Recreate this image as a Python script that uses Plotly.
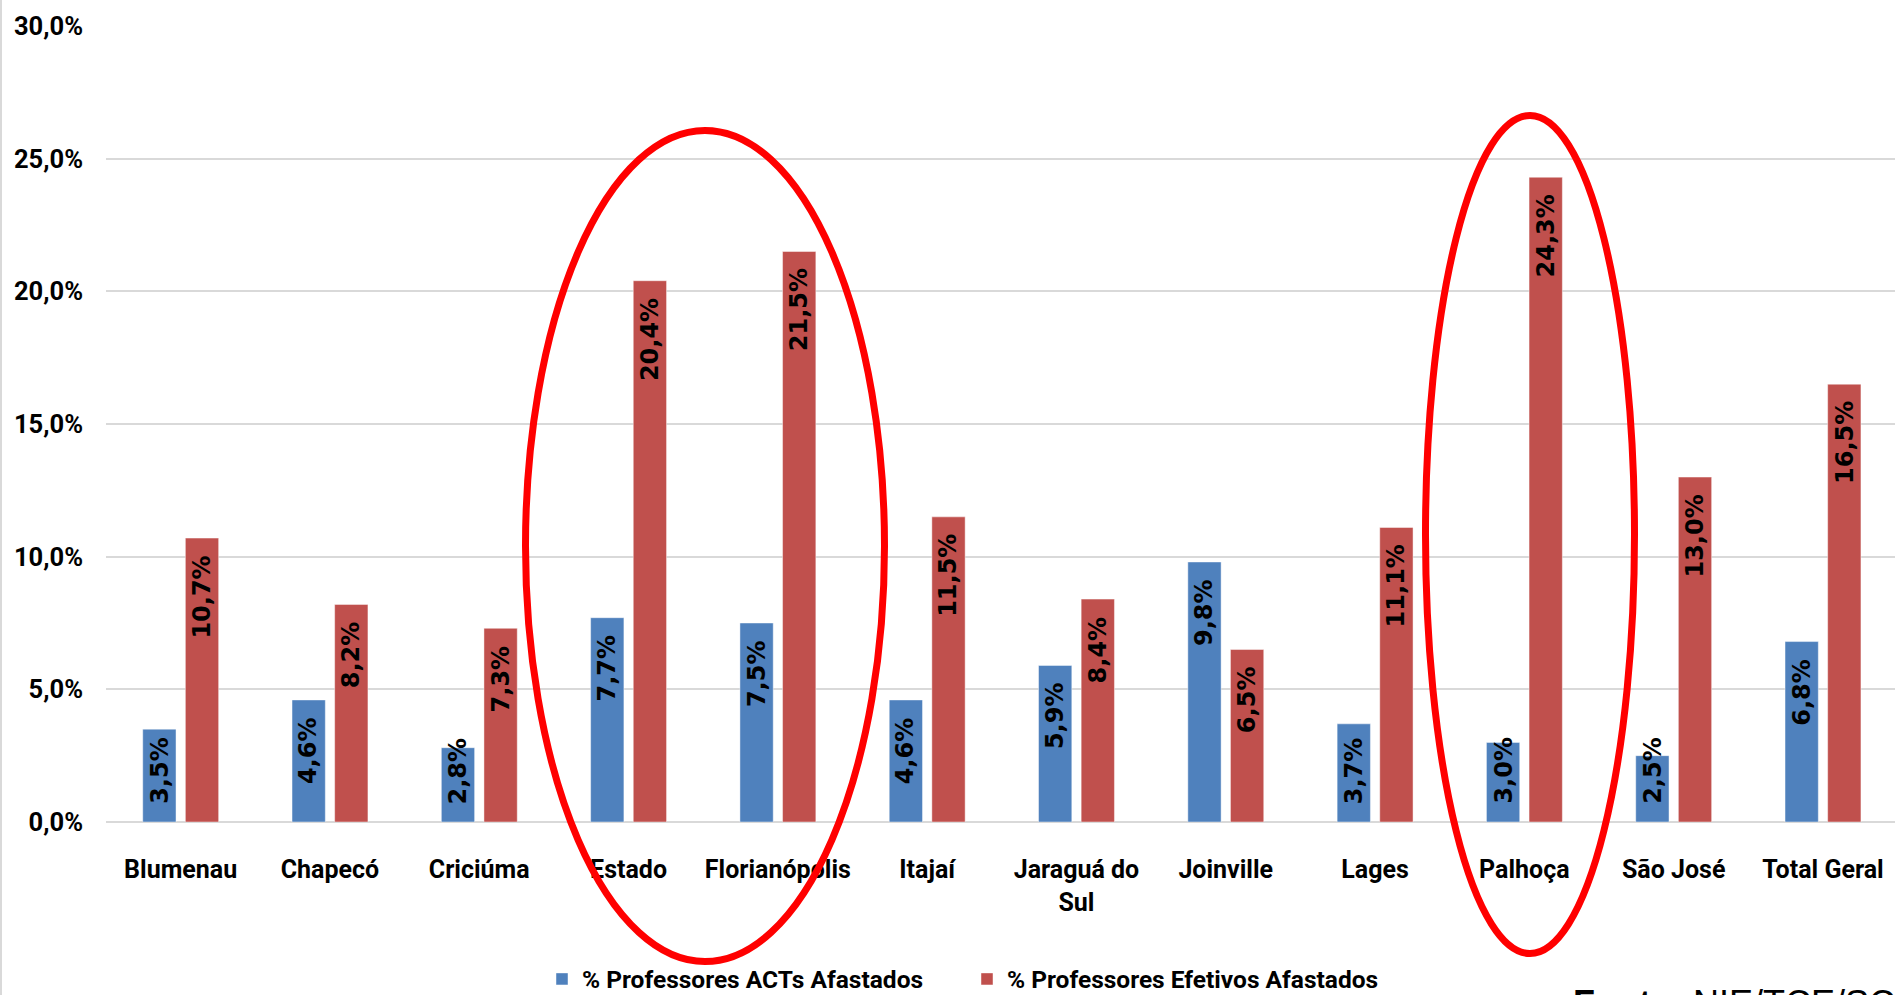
import plotly.graph_objects as go

# --- data -------------------------------------------------------------
categorias = ["Blumenau", "Chapecó", "Criciúma", "Estado", "Florianópolis", "Itajaí",
              "Jaraguá do Sul", "Joinville", "Lages", "Palhoça", "São José", "Total Geral"]
rotulos_eixo = ["Blumenau", "Chapecó", "Criciúma", "Estado", "Florianópolis", "Itajaí",
                "Jaraguá do<br>Sul", "Joinville", "Lages", "Palhoça", "São José", "Total Geral"]
act_afastados = [3.5, 4.6, 2.8, 7.7, 7.5, 4.6, 5.9, 9.8, 3.7, 3.0, 2.5, 6.8]
efetivos_afastados = [10.7, 8.2, 7.3, 20.4, 21.5, 11.5, 8.4, 6.5, 11.1, 24.3, 13.0, 16.5]
nome_act = "% Professores ACTs Afastados"
nome_efetivos = "% Professores Efetivos Afastados"
y_ticks = [0, 5, 10, 15, 20, 25, 30]

# --- geometry / style -------------------------------------------------
W, H = 1895, 995
ML, MR, MT, MB = 106, 0, 26, 173
PLOT_W = W - ML - MR
PLOT_H = H - MT - MB
CAT_PX = 149.3          # width of one category slot in pixels
BAR_W = 0.223
OFF_ACT = -0.254
OFF_EFE = 0.0315
Y_MAX = 30

AZUL = "#4F81BD"
VERMELHO = "#C0504D"
GRADE = "#D9D9D9"
FONTE_EIXO = "Roboto, Liberation Sans, sans-serif"
FONTE_ROTULO = "DejaVu Sans, Verdana, sans-serif"
TAM_ROTULO = 24


def px_x(px):
    return (px - ML) / PLOT_W


def px_y(py):
    return (MT + PLOT_H - py) / PLOT_H


def fmt(v):
    return f"{v:.1f}".replace(".", ",") + "%"


fig = go.Figure()
fig.add_trace(go.Bar(
    name=nome_act, x=categorias, y=act_afastados,
    width=BAR_W, offset=OFF_ACT,
    marker=dict(color=AZUL, line=dict(color="rgba(255,255,255,0.45)", width=1)),
    hoverinfo="x+y",
))
fig.add_trace(go.Bar(
    name=nome_efetivos, x=categorias, y=efetivos_afastados,
    width=BAR_W, offset=OFF_EFE,
    marker=dict(color=VERMELHO, line=dict(color="rgba(255,255,255,0.45)", width=1)),
    hoverinfo="x+y",
))

# value labels: rotated, inside the bar near its top; short bars keep the
# label lifted off the baseline instead
px_por_unidade = PLOT_H / Y_MAX
largura_char = {",": 0.38, "%": 1.002}
anotacoes = []
for serie, desloc in ((act_afastados, OFF_ACT), (efetivos_afastados, OFF_EFE)):
    centro_px = (desloc + BAR_W / 2) * CAT_PX
    for cat, v in zip(categorias, serie):
        txt = fmt(v)
        comp = sum(largura_char.get(c, 0.696) for c in txt) * TAM_ROTULO
        cabe = v * px_por_unidade >= comp + 32
        anotacoes.append(dict(
            x=cat, y=v if cabe else 0, xref="x", yref="y",
            text=txt, textangle=-90, showarrow=False,
            xanchor="center", yanchor="top" if cabe else "bottom",
            xshift=centro_px, yshift=-15 if cabe else 16,
            font=dict(family=FONTE_ROTULO, size=TAM_ROTULO, color="black", weight="bold"),
        ))

# source note, partly running off the lower right corner
anotacoes.append(dict(
    x=px_x(1571), y=px_y(1003), xref="paper", yref="paper",
    text="<b>Fonte:</b> NIE/TCE/SC", showarrow=False,
    xanchor="left", yanchor="middle",
    font=dict(family="Liberation Sans, Arial, sans-serif", size=36, color="black"),
))

# highlight ellipses (pixel centre, half-width, half-height)
elipses = [(705, 546, 179.5, 415.5), (1530, 534.5, 104.5, 419)]
formas = []
for cx, cy, rx, ry in elipses:
    formas.append(dict(
        type="circle", xref="paper", yref="paper",
        x0=px_x(cx - rx), x1=px_x(cx + rx), y0=px_y(cy + ry), y1=px_y(cy - ry),
        line=dict(color="#FF0000", width=7), fillcolor="rgba(0,0,0,0)", layer="above",
    ))
# thin frame line on the left edge of the chart area
formas.append(dict(
    type="line", xref="paper", yref="paper",
    x0=px_x(1), x1=px_x(1), y0=px_y(H), y1=px_y(0),
    line=dict(color=GRADE, width=2),
))

fig.update_layout(
    width=W, height=H,
    margin=dict(l=ML, r=MR, t=MT, b=MB, pad=0),
    paper_bgcolor="white", plot_bgcolor="white",
    barmode="overlay",
    showlegend=True,
    legend=dict(
        orientation="h", x=px_x(542), xanchor="left",
        yref="container", y=1 - 979 / H, yanchor="middle",
        font=dict(family=FONTE_EIXO, size=24.5, color="black", weight="bold"),
        entrywidth=380, entrywidthmode="pixels", itemwidth=30,
        bgcolor="rgba(0,0,0,0)", traceorder="normal",
    ),
    xaxis=dict(
        type="category", categoryorder="array", categoryarray=categorias,
        range=[-0.5, -0.5 + PLOT_W / CAT_PX],
        tickmode="array", tickvals=categorias, ticktext=rotulos_eixo,
        showgrid=False, showline=False, zeroline=False, ticks="",
        ticklabelstandoff=30,
        tickfont=dict(family=FONTE_EIXO, size=25, color="black", weight="bold"),
    ),
    yaxis=dict(
        range=[0, Y_MAX], tickmode="array", tickvals=y_ticks,
        ticktext=[fmt(v) for v in y_ticks],
        showgrid=True, gridcolor=GRADE, gridwidth=1.5,
        zeroline=True, zerolinecolor=GRADE, zerolinewidth=1.5,
        showline=False, ticks="", ticklabelstandoff=22,
        tickfont=dict(family=FONTE_EIXO, size=25.5, color="black", weight="bold"),
    ),
    annotations=anotacoes,
    shapes=formas,
)

fig.write_html("out.html")
